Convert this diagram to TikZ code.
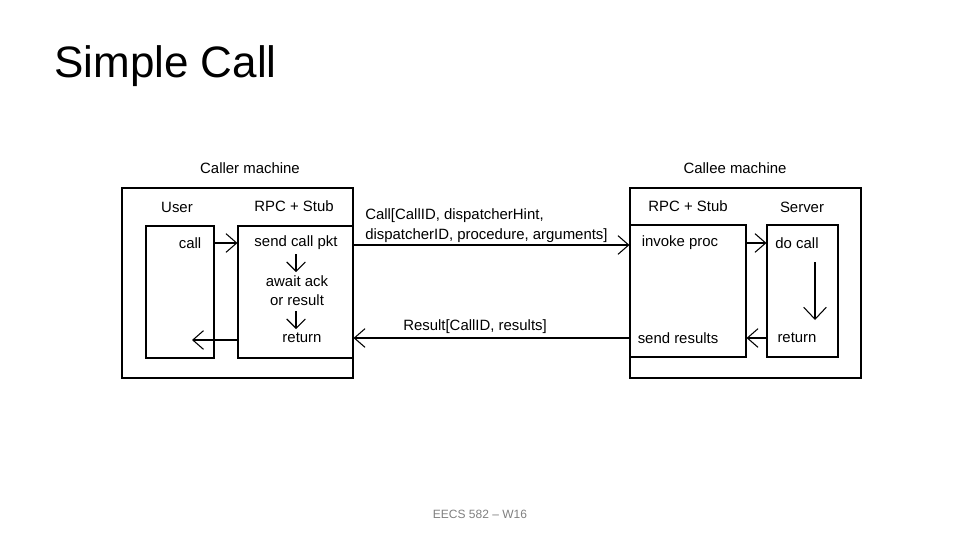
\documentclass[tikz,border=0pt]{standalone}
\usepackage{fontspec}
\setmainfont{Liberation Sans}
\usetikzlibrary{arrows.meta,fit}
\begin{document}
\begin{tikzpicture}[x=0.75pt,y=-0.75pt,
  outer/.style={draw,line width=1.5pt,inner sep=0pt},
  inner/.style={draw,line width=0.8pt,inner sep=0pt},
  lbl/.style={font=\fontsize{11.2}{13}\selectfont,inner sep=0pt},
  arr/.style={line width=0.8pt,-{Straight Barb[length=8pt,width=14pt,line width=0.8pt]}},
  sarr/.style={line width=0.8pt,-{Straight Barb[length=7pt,width=14pt,line width=0.8pt]}},
  barr/.style={line width=0.8pt,-{Straight Barb[length=9pt,width=17pt,line width=0.8pt]}}]
\useasboundingbox (0,0) rectangle (960,540);
% title and footer
\node[anchor=west,font=\fontsize{33}{39}\selectfont,inner sep=0pt] (title) at (54,66) {Simple Call};
\node[font=\fontsize{9}{11}\selectfont,text=black!50,inner sep=0pt] (footer) at (480,514) {EECS 582 – W16};
% caller machine
\coordinate (c1) at (122,188); \coordinate (c2) at (353,378);
\node[outer,fit=(c1)(c2)] (caller) {};
\coordinate (u1) at (146,226); \coordinate (u2) at (214,358);
\node[inner,fit=(u1)(u2)] (userbox) {};
\coordinate (s1) at (238,226); \coordinate (s2) at (353,358);
\node[inner,fit=(s1)(s2)] (cstub) {};
\node[lbl] (callerlbl) at (250,168) {Caller machine};
\node[lbl] (userlbl) at (177,207) {User};
\node[lbl] (cstublbl) at (294,206) {RPC + Stub};
\node[lbl] (call) at (190,243) {call};
\node[lbl] (send) at (296,243) {send call pkt};
\node[lbl] (await) at (297,281) {await ack};
\node[lbl] (orres) at (297,300) {or result};
\node[lbl] (cret) at (302,338) {return};
\coordinate (a1s) at (296,254); \coordinate (a1e) at (296,272);
\coordinate (a2s) at (296,311); \coordinate (a2e) at (296,329);
\draw[sarr] (a1s) -- (a1e);
\draw[sarr] (a2s) -- (a2e);
\draw[arr] (userbox.east |- call) -- (cstub.west |- call);
\coordinate (uret) at (192,340);
\draw[arr] (cstub.west |- uret) -- (uret);
% callee machine
\coordinate (e1) at (630,188); \coordinate (e2) at (861,378);
\node[outer,fit=(e1)(e2)] (callee) {};
\coordinate (t1) at (630,225); \coordinate (t2) at (746,357);
\node[inner,fit=(t1)(t2)] (estub) {};
\coordinate (v1) at (767,225); \coordinate (v2) at (838,357);
\node[inner,fit=(v1)(v2)] (server) {};
\node[lbl] (calleelbl) at (735,168) {Callee machine};
\node[lbl] (estublbl) at (688,206) {RPC + Stub};
\node[lbl] (serverlbl) at (802,207) {Server};
\node[lbl] (invoke) at (680,243) {invoke proc};
\node[lbl] (docall) at (797,243) {do call};
\node[lbl] (sret) at (797,338) {return};
\node[lbl] (sendres) at (678,338) {send results};
\draw[arr] (estub.east |- docall) -- (server.west |- docall);
\draw[arr] (server.west |- sret) -- (estub.east |- sret);
\coordinate (dn1) at (815,262); \coordinate (dn2) at (815,320);
\draw[barr] (dn1) -- (dn2);
% messages
\node[lbl,anchor=west,align=left,font=\fontsize{11.2}{15}\selectfont] (callmsg) at (365,226) {Call[CallID, dispatcherHint,\\dispatcherID, procedure, arguments]};
\node[lbl,anchor=west] (resmsg) at (403,327) {Result[CallID, results]};
\coordinate (my1) at (0,245); \coordinate (my2) at (0,338);
\draw[arr] (cstub.east |- my1) -- (estub.west |- my1);
\draw[arr] (estub.west |- my2) -- (cstub.east |- my2);
\end{tikzpicture}
\end{document}
